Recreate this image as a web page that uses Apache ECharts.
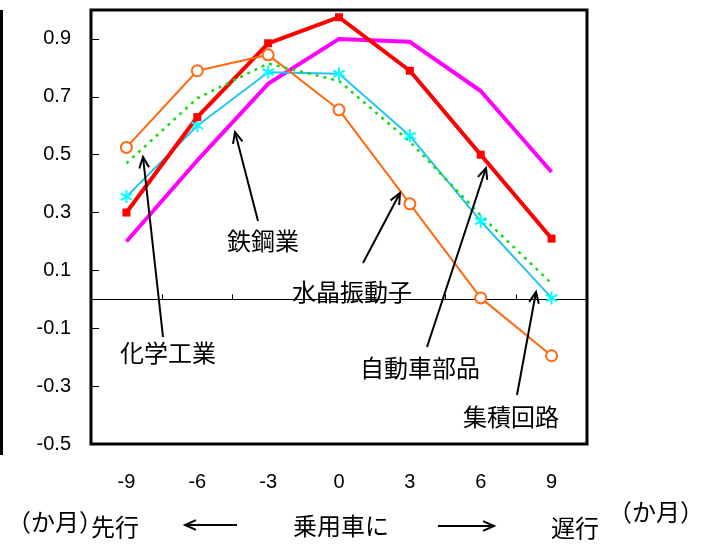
<!DOCTYPE html>
<html><head><meta charset="utf-8">
<script src="https://cdn.jsdelivr.net/npm/echarts@6/dist/echarts.min.js"></script>
<style>html,body{margin:0;padding:0;background:#fff}#c{width:719px;height:551px}</style>
</head><body><div id="c"></div>
<script>
// ---- data ----
const categories = ['-9', '-6', '-3', '0', '3', '6', '9'];
const chemical  = [0.47, 0.695, 0.815, 0.755, 0.545, 0.29, 0.055];   // 化学工業
const steel     = [0.20, 0.48, 0.745, 0.90, 0.89, 0.72, 0.44];        // 鉄鋼業
const crystal   = [0.525, 0.79, 0.845, 0.655, 0.33, 0.005, -0.195];   // 水晶振動子
const autoParts = [0.30, 0.63, 0.885, 0.975, 0.79, 0.50, 0.21];       // 自動車部品
const icircuit  = [0.355, 0.60, 0.785, 0.78, 0.565, 0.27, 0.005];     // 集積回路
const seriesNames = ['化学工業', '鉄鋼業', '水晶振動子', '自動車部品', '集積回路'];
const yMin = -0.5, yMax = 1.0, yStep = 0.2;

const JP = '"Noto Sans CJK JP", "Noto Sans CJK SC", sans-serif';
const LAT = '"Liberation Sans", Arial, sans-serif';

function arrow(x1, y1, x2, y2) {
  const a = Math.atan2(y2 - y1, x2 - x1), L = 12, w = 0.42;
  const p1 = [x2 - L * Math.cos(a - w), y2 - L * Math.sin(a - w)];
  const p2 = [x2 - L * Math.cos(a + w), y2 - L * Math.sin(a + w)];
  return [
    {type: 'line', shape: {x1, y1, x2, y2}, style: {stroke: '#000', lineWidth: 2}, z: 100},
    {type: 'polyline', shape: {points: [p1, [x2, y2], p2]}, style: {stroke: '#000', lineWidth: 2, fill: null}, z: 100}
  ];
}
function label(text, x, y) {
  return {type: 'text', x, y, z: 100,
    style: {text, font: '24px ' + JP, fill: '#000', align: 'center', verticalAlign: 'middle',
            textAlign: 'center', textVerticalAlign: 'middle'}};
}

const asterisk = 'path://M10,0L10,20M1.34,5L18.66,15M1.34,15L18.66,5';

const chart = echarts.init(document.getElementById('c'), null, {renderer: 'canvas'});
chart.setOption({
  animation: false,
  backgroundColor: '#fff',
  grid: {left: 91, top: 10, right: 132, bottom: 107, show: true, borderColor: '#000', borderWidth: 3, backgroundColor: 'transparent'},
  xAxis: [
    {type: 'category', data: categories, boundaryGap: true, position: 'bottom',
     axisLine: {show: false, onZero: false}, axisTick: {show: false}, splitLine: {show: false},
     axisLabel: {fontSize: 20, color: '#000', margin: 28, fontFamily: LAT}},
    {type: 'category', data: categories, boundaryGap: true, position: 'top',
     axisLine: {show: true, onZero: true, lineStyle: {color: '#000', width: 1}},
     axisTick: {show: true, inside: false, length: 5, interval: 0, lineStyle: {color: '#000', width: 1}},
     axisLabel: {show: false}, splitLine: {show: false}}
  ],
  yAxis: {type: 'value', min: yMin, max: yMax, interval: yStep,
    axisLine: {show: false}, splitLine: {show: false},
    axisTick: {show: true, inside: true, length: 8, lineStyle: {color: '#000', width: 1}},
    axisLabel: {fontSize: 20, color: '#000', margin: 20, fontFamily: LAT, showMaxLabel: false,
      formatter: v => v.toFixed(1)}},
  series: [
    {name: seriesNames[1], type: 'line', data: steel, showSymbol: false, symbol: 'none',
     lineStyle: {color: '#ff00ff', width: 4}, itemStyle: {color: '#ff00ff'}},
    {name: seriesNames[4], type: 'line', data: icircuit, symbol: asterisk, symbolSize: 13, symbolKeepAspect: true,
     lineStyle: {color: '#22c4f2', width: 2},
     itemStyle: {color: '#00ffff', borderColor: '#00ffff', borderWidth: 2}},
    {name: seriesNames[3], type: 'line', data: autoParts, symbol: 'rect', symbolSize: 8,
     lineStyle: {color: '#ff0000', width: 4}, itemStyle: {color: '#ff0000'}},
    {name: seriesNames[2], type: 'line', data: crystal, symbol: 'emptyCircle', symbolSize: 11,
     lineStyle: {color: '#ff6a10', width: 2}, itemStyle: {color: '#ff6a10', borderWidth: 1.8}},
    {name: seriesNames[0], type: 'line', data: chemical, showSymbol: false, symbol: 'none',
     lineStyle: {color: '#11dd11', width: 2.5, type: [3, 5]}, itemStyle: {color: '#11dd11'}}
  ],
  graphic: [
    {type: 'rect', shape: {x: 0, y: 10, width: 3, height: 445}, style: {fill: '#000'}},
    label(seriesNames[0], 168, 353),
    label(seriesNames[1], 263, 241),
    label(seriesNames[2], 352, 292),
    label(seriesNames[3], 420, 368),
    label(seriesNames[4], 511, 417),
    ...arrow(163, 337, 143, 157),
    ...arrow(258, 221, 235, 132),
    ...arrow(363, 263, 400, 193),
    ...arrow(427, 347, 486, 168),
    ...arrow(517, 395, 536, 292),
    label('（か月）', 55, 522),
    label('先行', 115, 527),
    label('乗用車に', 341, 526),
    label('遅行', 575, 528),
    label('（か月）', 656, 512),
    ...arrow(237, 525, 185, 525),
    ...arrow(438, 526, 494, 526)
  ]
});
</script></body></html>
